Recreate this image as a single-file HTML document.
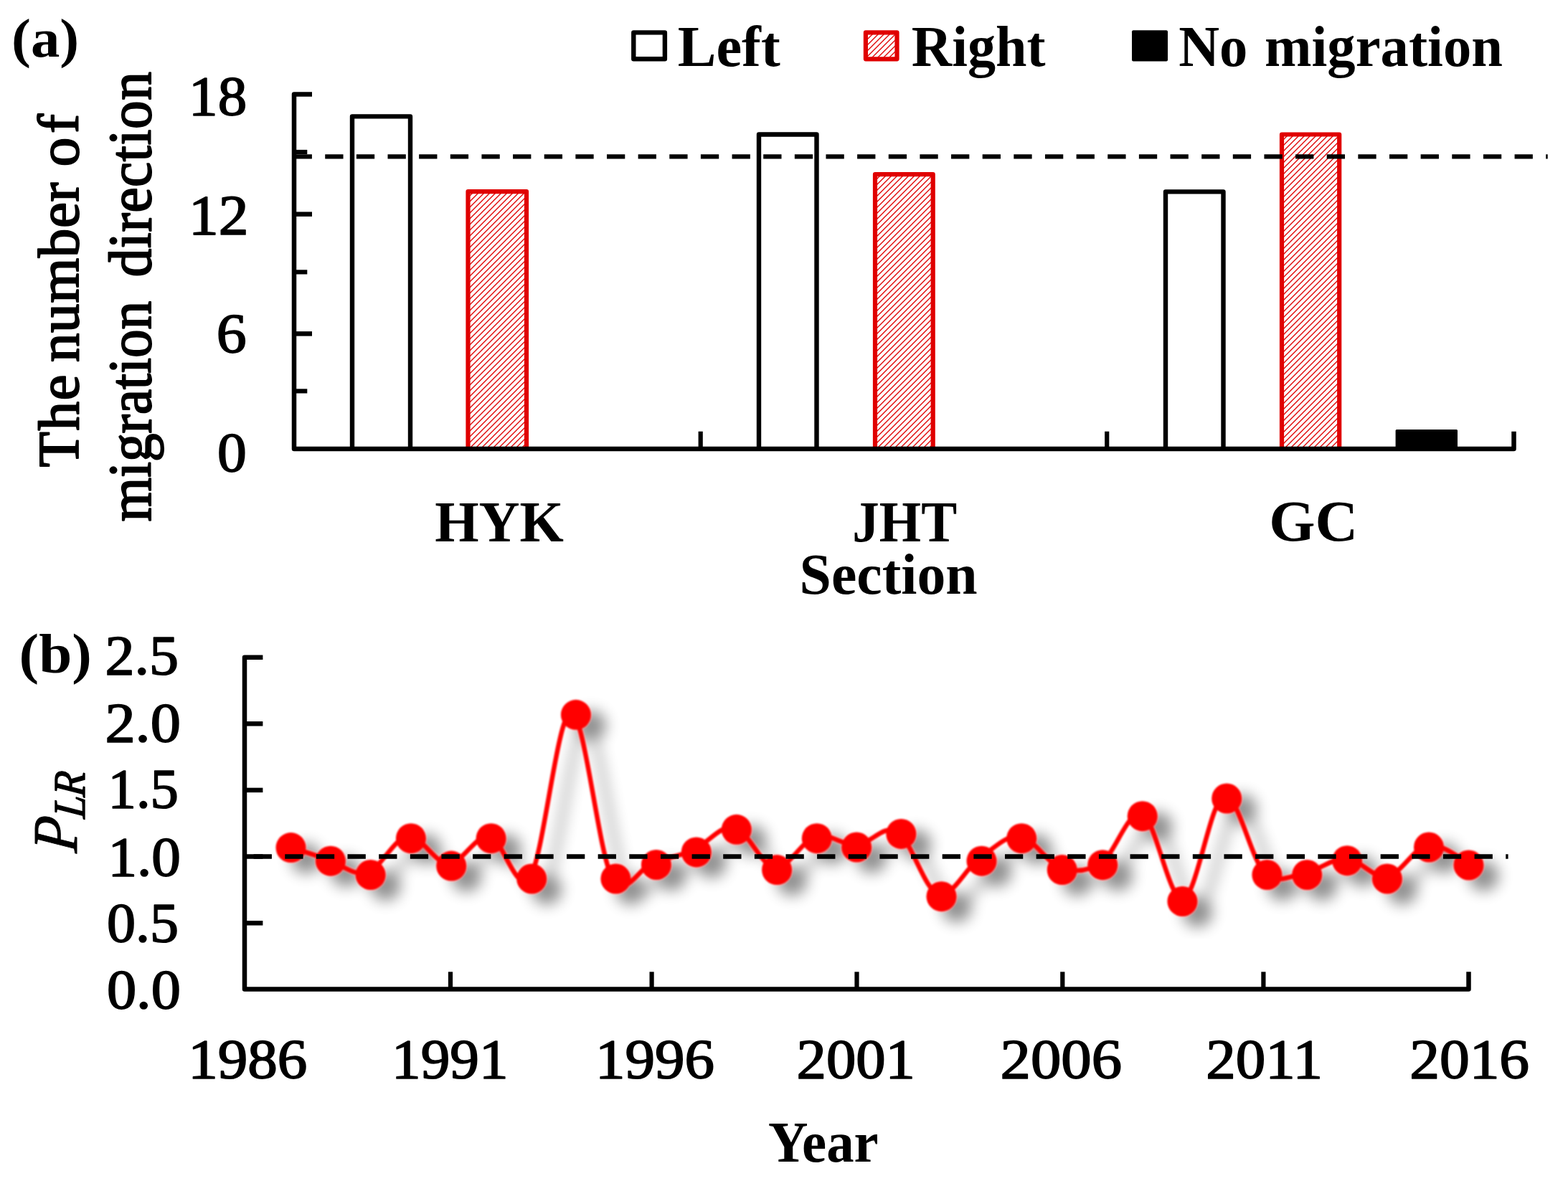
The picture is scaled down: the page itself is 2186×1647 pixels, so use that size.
<!DOCTYPE html>
<html lang="en">
<head>
<meta charset="utf-8">
<title>Migration direction and P_LR</title>
<style>
html,body{margin:0;padding:0;background:#fff;}
body{width:2186px;height:1647px;}
svg{display:block;}
text{font-family:"Liberation Serif", serif;fill:#000;white-space:pre;}
.b{font-weight:bold;}
.i{font-style:italic;}
</style>
</head>
<body>
<svg width="2186" height="1647" viewBox="0 0 2186 1647">
<defs>
<pattern id="hatch" width="8" height="8" patternUnits="userSpaceOnUse">
<rect width="8" height="8" fill="#fff"/>
<path d="M-2 10 L10 -2 M-2 2 L2 -2 M6 10 L10 6" stroke="#e00000" stroke-width="1.35" fill="none"/>
</pattern>
<filter id="sh" x="-5%" y="-30%" width="110%" height="160%" filterUnits="objectBoundingBox">
<feGaussianBlur in="SourceAlpha" stdDeviation="10" result="b"/>
<feOffset in="b" dx="21" dy="15" result="o"/>
<feComponentTransfer in="o" result="s"><feFuncA type="linear" slope="0.44"/></feComponentTransfer>
<feMerge><feMergeNode in="s"/><feMergeNode in="SourceGraphic"/></feMerge>
</filter>
<filter id="soft"><feGaussianBlur stdDeviation="0.8"/></filter>
</defs>
<rect width="2186" height="1647" fill="#fff"/>

<g id="fills">
<rect x="652.5" y="267.2" width="81.5" height="358.8" fill="url(#hatch)"/>
<rect x="1220.0" y="243.1" width="80.7" height="382.9" fill="url(#hatch)"/>
<rect x="1787.0" y="187.5" width="80.2" height="438.5" fill="url(#hatch)"/>
<rect x="1206.9" y="45.4" width="43.6" height="36.9" fill="url(#hatch)"/>
</g>
<g id="all">
<g id="chart-a">
<path d="M491.0 626.0 L491.0 162.4 L572.0 162.4 L572.0 626.0" fill="#fff" stroke="#000" stroke-width="6.4" stroke-linejoin="round"/>
<path d="M652.5 628.0 L652.5 267.2 L734.0 267.2 L734.0 628.0" fill="none" stroke="#e00000" stroke-width="6.2" stroke-linejoin="round"/>
<path d="M1058.0 626.0 L1058.0 187.5 L1138.5 187.5 L1138.5 626.0" fill="#fff" stroke="#000" stroke-width="6.4" stroke-linejoin="round"/>
<path d="M1220.0 628.0 L1220.0 243.1 L1300.7 243.1 L1300.7 628.0" fill="none" stroke="#e00000" stroke-width="6.2" stroke-linejoin="round"/>
<path d="M1625.0 626.0 L1625.0 267.4 L1705.5 267.4 L1705.5 626.0" fill="#fff" stroke="#000" stroke-width="6.4" stroke-linejoin="round"/>
<path d="M1787.0 628.0 L1787.0 187.5 L1867.2 187.5 L1867.2 628.0" fill="none" stroke="#e00000" stroke-width="6.2" stroke-linejoin="round"/>
<rect x="1945.6" y="599" width="86.4" height="30" fill="#000" rx="1.5"/>
<path d="M435 131.6 L410 131.6 L410 625.9 L2110.5 625.9 L2110.5 601.7" fill="none" stroke="#000" stroke-width="6.5" stroke-linejoin="round"/>
<line x1="410" y1="298.7" x2="435" y2="298.7" stroke="#000" stroke-width="6.5" />
<line x1="410" y1="465.4" x2="435" y2="465.4" stroke="#000" stroke-width="6.5" />
<line x1="410" y1="212.0" x2="428.3" y2="212.0" stroke="#000" stroke-width="6.2" />
<line x1="410" y1="379.4" x2="428.3" y2="379.4" stroke="#000" stroke-width="6.2" />
<line x1="410" y1="545.4" x2="428.3" y2="545.4" stroke="#000" stroke-width="6.2" />
<line x1="976.7" y1="601.7" x2="976.7" y2="625.9" stroke="#000" stroke-width="6.2" />
<line x1="1543.2" y1="601.7" x2="1543.2" y2="625.9" stroke="#000" stroke-width="6.2" />
<line x1="409.6" y1="218.4" x2="2157.7" y2="218.4" stroke="#000" stroke-width="6.4" stroke-dasharray="25.3 18.34"/>
<rect x="883.3" y="45.4" width="43.6" height="36.9" fill="#fff" stroke="#000" stroke-width="6.4" stroke-linejoin="round"/>
<rect x="1206.9" y="45.4" width="43.6" height="36.9" fill="none" stroke="#e00000" stroke-width="6.2" stroke-linejoin="round"/>
<rect x="1578" y="42.3" width="50" height="43.1" fill="#000" rx="2"/>
</g>
<g id="chart-b">
<path d="M366.4 916.7 L341 916.7 L341 1379.6 L2047.5 1379.6 L2047.5 1355.3" fill="none" stroke="#000" stroke-width="6.5" stroke-linejoin="round"/>
<line x1="341" y1="1009.3" x2="366.4" y2="1009.3" stroke="#000" stroke-width="6.5" />
<line x1="341" y1="1101.9" x2="366.4" y2="1101.9" stroke="#000" stroke-width="6.5" />
<line x1="341" y1="1194.5" x2="366.4" y2="1194.5" stroke="#000" stroke-width="6.5" />
<line x1="341" y1="1287.3" x2="366.4" y2="1287.3" stroke="#000" stroke-width="6.5" />
<line x1="628.0" y1="1355.3" x2="628.0" y2="1379.6" stroke="#000" stroke-width="6.2" />
<line x1="908.6" y1="1355.3" x2="908.6" y2="1379.6" stroke="#000" stroke-width="6.2" />
<line x1="1194.5" y1="1355.3" x2="1194.5" y2="1379.6" stroke="#000" stroke-width="6.2" />
<line x1="1481.3" y1="1355.3" x2="1481.3" y2="1379.6" stroke="#000" stroke-width="6.2" />
<line x1="1761.4" y1="1355.3" x2="1761.4" y2="1379.6" stroke="#000" stroke-width="6.2" />
<g id="series" filter="url(#soft)"><g filter="url(#sh)">
<path fill="none" stroke="#ff0000" stroke-width="6.5" stroke-linejoin="round" d="M397.9 1179.1 C407.4 1182.2 435.8 1191.4 454.8 1197.7 C473.7 1204.0 492.7 1222.2 511.6 1217.0 C530.6 1211.8 549.6 1168.3 568.5 1166.2 C587.5 1164.1 606.5 1204.6 625.4 1204.6 C644.4 1204.6 663.3 1163.2 682.3 1166.2 C701.3 1169.2 720.2 1251.2 739.2 1222.5 C758.1 1193.8 777.1 993.8 796.1 993.8 C815.0 993.8 834.0 1187.6 852.9 1222.5 C871.9 1257.4 890.9 1209.2 909.8 1203.0 C928.8 1196.8 947.8 1193.6 966.7 1185.4 C985.7 1177.2 1004.6 1149.7 1023.6 1153.8 C1042.6 1157.9 1061.5 1208.0 1080.5 1210.1 C1099.4 1212.2 1118.4 1171.5 1137.4 1166.2 C1156.3 1160.9 1175.3 1179.5 1194.2 1178.5 C1213.2 1177.5 1232.2 1148.5 1251.1 1159.9 C1270.1 1171.4 1289.0 1240.9 1308.0 1247.2 C1327.0 1253.5 1345.9 1211.2 1364.9 1197.7 C1383.9 1184.2 1402.8 1164.1 1421.8 1166.2 C1440.7 1168.3 1459.7 1203.9 1478.7 1210.1 C1497.6 1216.3 1516.6 1215.7 1535.5 1203.2 C1554.5 1190.7 1573.5 1126.7 1592.4 1135.2 C1611.4 1143.7 1630.3 1258.1 1649.3 1254.0 C1668.3 1249.9 1687.2 1116.7 1706.2 1110.5 C1725.2 1104.3 1744.1 1199.2 1763.1 1217.0 C1782.0 1234.8 1801.0 1220.3 1820.0 1217.0 C1838.9 1213.7 1857.9 1196.3 1876.8 1197.2 C1895.8 1198.1 1914.8 1225.6 1933.7 1222.5 C1952.7 1219.4 1971.6 1181.7 1990.6 1178.5 C2009.6 1175.3 2038.0 1199.3 2047.5 1203.5"/>
<circle cx="405.5" cy="1182.1" r="21" fill="#ff0000"/>
<circle cx="460.9" cy="1200.7" r="21" fill="#ff0000"/>
<circle cx="516.6" cy="1220.0" r="21" fill="#ff0000"/>
<circle cx="572.9" cy="1169.2" r="21" fill="#ff0000"/>
<circle cx="629.2" cy="1207.6" r="21" fill="#ff0000"/>
<circle cx="684.6" cy="1169.2" r="21" fill="#ff0000"/>
<circle cx="741.2" cy="1225.5" r="21" fill="#ff0000"/>
<circle cx="802.9" cy="996.8" r="21" fill="#ff0000"/>
<circle cx="858.4" cy="1225.5" r="21" fill="#ff0000"/>
<circle cx="914.9" cy="1206.0" r="21" fill="#ff0000"/>
<circle cx="970.8" cy="1188.4" r="21" fill="#ff0000"/>
<circle cx="1026.8" cy="1156.8" r="21" fill="#ff0000"/>
<circle cx="1083.1" cy="1213.1" r="21" fill="#ff0000"/>
<circle cx="1138.8" cy="1169.2" r="21" fill="#ff0000"/>
<circle cx="1194.2" cy="1181.5" r="21" fill="#ff0000"/>
<circle cx="1256.3" cy="1162.9" r="21" fill="#ff0000"/>
<circle cx="1312.5" cy="1250.2" r="21" fill="#ff0000"/>
<circle cx="1368.5" cy="1200.7" r="21" fill="#ff0000"/>
<circle cx="1424.2" cy="1169.2" r="21" fill="#ff0000"/>
<circle cx="1480.7" cy="1213.1" r="21" fill="#ff0000"/>
<circle cx="1537.2" cy="1206.2" r="21" fill="#ff0000"/>
<circle cx="1592.7" cy="1138.2" r="21" fill="#ff0000"/>
<circle cx="1648.4" cy="1257.0" r="21" fill="#ff0000"/>
<circle cx="1710.2" cy="1113.5" r="21" fill="#ff0000"/>
<circle cx="1766.4" cy="1220.0" r="21" fill="#ff0000"/>
<circle cx="1822.2" cy="1220.0" r="21" fill="#ff0000"/>
<circle cx="1878.1" cy="1200.2" r="21" fill="#ff0000"/>
<circle cx="1933.9" cy="1225.5" r="21" fill="#ff0000"/>
<circle cx="1992.0" cy="1181.5" r="21" fill="#ff0000"/>
<circle cx="2047.5" cy="1206.5" r="21" fill="#ff0000"/>
</g></g>
<line x1="353.61" y1="1194.5" x2="2102.6" y2="1194.5" stroke="#000" stroke-width="6.4" stroke-dasharray="25.3 18.34"/>
</g>
</g>
<g id="labels">
<text class="b" font-size="80" transform="matrix(1.0093 0 0 0.9479 16.06 79.48)">(a)</text>
<text font-size="80" stroke="#000" stroke-width="1.8" stroke-linejoin="round" transform="matrix(1.0139 0 0 0.9679 263.12 160.36)">18</text>
<text font-size="80" stroke="#000" stroke-width="1.8" stroke-linejoin="round" transform="matrix(1.0429 0 0 0.9855 262.94 325.61)">12</text>
<text font-size="80" stroke="#000" stroke-width="1.8" stroke-linejoin="round" transform="matrix(1.0486 0 0 0.9679 301.85 490.66)">6</text>
<text font-size="80" stroke="#000" stroke-width="1.8" stroke-linejoin="round" transform="matrix(1.0194 0 0 0.9679 302.96 656.66)">0</text>
<text class="b" font-size="80" transform="matrix(1.0064 0 0 1.0000 944.69 91.90)">Left</text>
<text class="b" font-size="80" transform="matrix(0.9774 0 0 1.0000 1270.82 91.90)">Right</text>
<text class="b" font-size="80" word-spacing="4" transform="matrix(0.9831 0 0 1.0000 1643.33 91.90)">No migration</text>
<text class="b" font-size="80" transform="matrix(0.9856 0 0 1.0000 606.21 754.70)">HYK</text>
<text class="b" font-size="80" transform="matrix(0.9373 0 0 1.0000 1188.35 754.70)">JHT</text>
<text class="b" font-size="80" transform="matrix(1.0327 0 0 1.0000 1769.37 754.00)">GC</text>
<text class="b" font-size="80" transform="matrix(0.9967 0 0 1.0000 1114.61 827.60)">Section</text>
<text class="b" font-size="80" transform="matrix(1.0367 0 0 0.9781 26.55 938.07)">(b)</text>
<text font-size="80" stroke="#000" stroke-width="1.8" stroke-linejoin="round" transform="matrix(1.0253 0 0 0.9679 146.52 940.36)">2.5</text>
<text font-size="80" stroke="#000" stroke-width="1.8" stroke-linejoin="round" transform="matrix(1.0547 0 0 0.9679 146.44 1033.76)">2.0</text>
<text font-size="80" stroke="#000" stroke-width="1.8" stroke-linejoin="round" transform="matrix(0.9837 0 0 0.9679 150.60 1126.46)">1.5</text>
<text font-size="80" stroke="#000" stroke-width="1.8" stroke-linejoin="round" transform="matrix(1.0141 0 0 0.9679 150.42 1220.56)">1.0</text>
<text font-size="80" stroke="#000" stroke-width="1.8" stroke-linejoin="round" transform="matrix(1.0000 0 0 0.9679 149.00 1312.66)">0.5</text>
<text font-size="80" stroke="#000" stroke-width="1.8" stroke-linejoin="round" transform="matrix(1.0292 0 0 0.9679 148.94 1406.06)">0.0</text>
<text font-size="80" stroke="#000" stroke-width="1.8" stroke-linejoin="round" transform="matrix(1.0388 0 0 0.9679 262.17 1503.06)">1986</text>
<text font-size="80" stroke="#000" stroke-width="1.8" stroke-linejoin="round" transform="matrix(1.0153 0 0 0.9679 546.11 1503.06)">1991</text>
<text font-size="80" stroke="#000" stroke-width="1.8" stroke-linejoin="round" transform="matrix(1.0382 0 0 0.9679 829.97 1503.06)">1996</text>
<text font-size="80" stroke="#000" stroke-width="1.8" stroke-linejoin="round" transform="matrix(1.0333 0 0 0.9679 1110.60 1503.06)">2001</text>
<text font-size="80" stroke="#000" stroke-width="1.8" stroke-linejoin="round" transform="matrix(1.0587 0 0 0.9679 1394.62 1503.06)">2006</text>
<text font-size="80" stroke="#000" stroke-width="1.8" stroke-linejoin="round" transform="matrix(1.0373 0 0 0.9679 1681.19 1503.06)">2011</text>
<text font-size="80" stroke="#000" stroke-width="1.8" stroke-linejoin="round" transform="matrix(1.0432 0 0 0.9679 1965.17 1503.06)">2016</text>
<text class="b" font-size="80" transform="matrix(0.9611 0 0 1.0000 1071.04 1620.00)">Year</text>
<text font-size="88" stroke="#000" stroke-width="2.2" stroke-linejoin="round" dx="0 1.64 1.64 0 -3.09 0.73 0.73 0.73 0.73 0.73 0 2.24 6" transform="matrix(0 -0.9200 0.9200 0 109.30 651.42)">The number of</text>
<text font-size="88" stroke="#000" stroke-width="2.2" stroke-linejoin="round" dx="0 -0.04 -0.04 -0.04 -0.04 -0.04 -0.04 -0.04 -0.04 0 15.24 0.64 0.64 0.64 0.64 0.64 0.64 0.64 0.64" transform="matrix(0 -0.9000 0.9550 0 209.50 727.50)">migration direction</text>
<text class="i" font-size="88" stroke="#000" stroke-width="1.0" stroke-linejoin="round" transform="matrix(0 -0.9123 1.0060 0 107.30 1189.99) skewX(-6)">P<tspan x="53.82" y="10.85" font-size="62.29" stroke-width="1.4" letter-spacing="-1.77">LR</tspan></text>
</g>
</svg>
</body>
</html>
